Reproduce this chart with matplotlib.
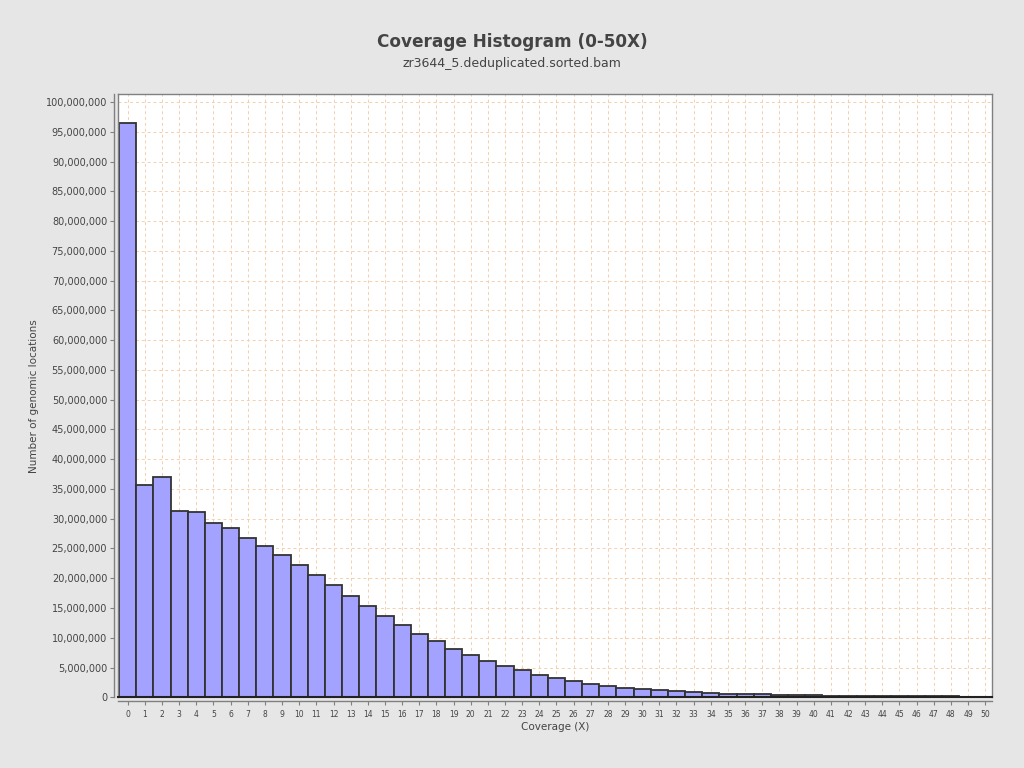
import matplotlib
matplotlib.use("Agg")
import matplotlib.pyplot as plt
from matplotlib.ticker import MultipleLocator, FuncFormatter

# -------------------------------------------------
# Data
# -------------------------------------------------
coverage = list(range(51))
locations = [
    96.5e6, 35.7e6, 37.0e6, 31.3e6, 31.1e6, 29.3e6, 28.5e6, 26.8e6, 25.4e6, 23.9e6,
    22.2e6, 20.6e6, 18.9e6, 17.0e6, 15.4e6, 13.7e6, 12.2e6, 10.7e6, 9.5e6, 8.1e6,
    7.1e6, 6.1e6, 5.3e6, 4.5e6, 3.8e6, 3.3e6, 2.8e6, 2.3e6, 1.9e6, 1.6e6,
    1.4e6, 1.2e6, 1.0e6, 0.85e6, 0.7e6, 0.55e6, 0.5e6, 0.48e6, 0.4e6, 0.38e6,
    0.35e6, 0.22e6, 0.21e6, 0.2e6, 0.19e6, 0.18e6, 0.17e6, 0.16e6, 0.15e6, 0.0, 0.0,
]

TITLE = "Coverage Histogram (0-50X)"
SUBTITLE = "zr3644_5.deduplicated.sorted.bam"

BACKGROUND = "#e6e6e6"
TEXT = "#444444"
GRID = "#f4cfae"
BAR = "#a3a3ff"

# -------------------------------------------------
# Figure + layout
# -------------------------------------------------
DPI = 100
fig = plt.figure(figsize=(1024 / DPI, 768 / DPI), dpi=DPI)
fig.patch.set_facecolor(BACKGROUND)

ax = fig.add_axes([0.1155, 0.0921, 0.9688 - 0.1155, 0.8772 - 0.0921])
ax.set_facecolor("white")

ax.bar(coverage, locations, width=1.0, color=BAR, edgecolor="#333333",
       linewidth=1.3, zorder=3)

ax.set_xlim(-0.55, 50.4)
ax.set_ylim(0, 101.3e6)

ax.yaxis.set_major_locator(MultipleLocator(5e6))
ax.yaxis.set_major_formatter(FuncFormatter(lambda v, p: f"{int(v):,}"))
ax.xaxis.set_major_locator(MultipleLocator(1))

ax.grid(True, which="major", color=GRID, linestyle=(0, (3, 3)), linewidth=0.7, zorder=0)

for side in ["top", "right"]:
    ax.spines[side].set_color("#808080")
    ax.spines[side].set_linewidth(1.0)
for side in ["left", "bottom"]:
    ax.spines[side].set_position(("outward", 3))
    ax.spines[side].set_color("#808080")
    ax.spines[side].set_linewidth(1.0)

# frame around plot area on left/bottom too
ax.plot([0, 0], [0, 1], transform=ax.transAxes, color="#808080", lw=1.0, clip_on=False, zorder=4)
ax.plot([0, 1], [0, 0], transform=ax.transAxes, color="#222222", lw=1.5, clip_on=False, zorder=4)

ax.tick_params(axis="y", labelsize=7, colors="#808080", labelcolor=TEXT, length=3, pad=2)
ax.tick_params(axis="x", labelsize=5.5, colors="#808080", labelcolor=TEXT, length=3, pad=3)

ax.set_xlabel("Coverage (X)", fontsize=7.5, color=TEXT, labelpad=2)
ax.set_ylabel("Number of genomic locations", fontsize=7.5, color=TEXT, labelpad=5)

# -------------------------------------------------
# Titles
# -------------------------------------------------
fig.text(0.5, 1 - 42 / 768, TITLE, ha="center", va="center",
         fontsize=12.2, fontweight="bold", color=TEXT)
fig.text(0.5, 1 - 64 / 768, SUBTITLE, ha="center", va="center",
         fontsize=9, color=TEXT)

fig.savefig("out.png", dpi=DPI, facecolor=fig.get_facecolor())
